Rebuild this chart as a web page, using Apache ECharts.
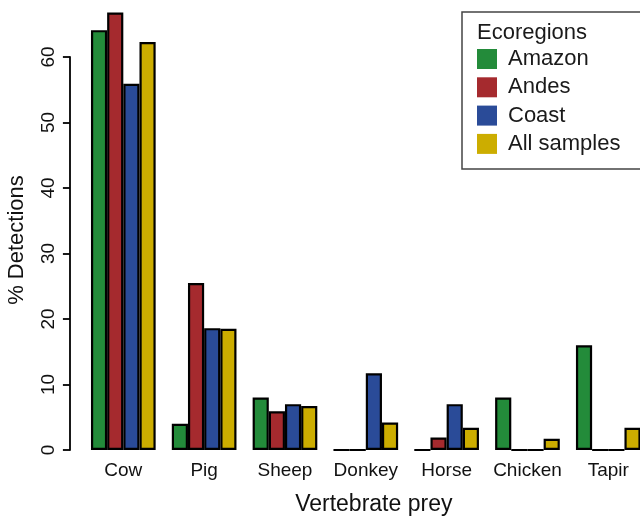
<!DOCTYPE html>
<html>
<head>
<meta charset="utf-8">
<script src="https://cdn.jsdelivr.net/npm/echarts@6/dist/echarts.min.js"></script>
<style>
html,body{margin:0;padding:0;background:#fff;}
#chart{width:640px;height:517px;}
</style>
</head>
<body>
<div id="chart"></div>
<script>
const categories = ['Cow', 'Pig', 'Sheep', 'Donkey', 'Horse', 'Chicken', 'Tapir'];
const amazon = [64.1, 4.0, 8.0, 0, 0, 8.0, 16.0];
const andes = [66.8, 25.5, 5.9, 0, 1.9, 0, 0];
const coast = [55.9, 18.6, 7.0, 11.7, 7.0, 0, 0];
const allSamples = [62.3, 18.5, 6.7, 4.2, 3.4, 1.7, 3.4];
const seriesNames = ['Amazon', 'Andes', 'Coast', 'All samples'];
const colors = ['#238B3A', '#A52A2E', '#2A4B98', '#CCAD00'];
const yTicks = [0, 10, 20, 30, 40, 50, 60];

const FONT = '"Liberation Sans", Helvetica, Arial, sans-serif';
const chart = echarts.init(document.getElementById('chart'));
const seriesData = [amazon, andes, coast, allSamples];

chart.setOption({
  animation: false,
  backgroundColor: '#fff',
  textStyle: { fontFamily: FONT },
  color: colors,
  grid: { left: 82.9, top: 57, width: 565.8, bottom: 67, containLabel: false, outerBoundsMode: 'none' },
  graphic: [
    { type: 'rect', z: 10,
      shape: { x: 462, y: 12, width: 200, height: 157 },
      style: { fill: 'none', stroke: '#444', lineWidth: 1.5 } },
    { type: 'text', x: 477, y: 33, z: 11,
      style: { text: 'Ecoregions', font: '22px ' + FONT, fill: '#1a1a1a', textVerticalAlign: 'middle' } }
  ],
  legend: {
    data: seriesNames,
    orient: 'vertical',
    left: 477,
    top: 48,
    itemWidth: 20,
    itemHeight: 20,
    itemGap: 6.3,
    icon: 'rect',
    padding: 0,
    itemStyle: { borderWidth: 0 },
    textStyle: { fontSize: 22, color: '#1a1a1a', fontFamily: FONT, padding: [0, 0, 0, 6] }
  },
  xAxis: {
    type: 'category',
    data: categories,
    axisLine: { show: false },
    axisTick: { show: false },
    axisLabel: { interval: 0, fontSize: 19, color: '#111', margin: 11, fontFamily: FONT },
    name: 'Vertebrate prey',
    nameLocation: 'middle',
    nameGap: 43,
    nameTextStyle: { fontSize: 23, color: '#111', fontFamily: FONT, padding: [0, 0, 0, 16] }
  },
  yAxis: {
    type: 'value',
    min: 0,
    max: 60,
    interval: 10,
    offset: 13,
    splitLine: { show: false },
    axisLine: { show: true, lineStyle: { color: '#000', width: 1.8 } },
    axisTick: { show: true, length: 7, lineStyle: { color: '#000', width: 1.8 } },
    axisLabel: { rotate: 90, fontSize: 19, color: '#111', margin: 12, fontFamily: FONT,
      formatter: v => yTicks.includes(v) ? String(v) : '' },
    name: '% Detections',
    nameLocation: 'middle',
    nameGap: 42,
    nameTextStyle: { fontSize: 22, color: '#111', fontFamily: FONT, padding: [0, 0, 0, 27] }
  },
  series: seriesNames.map((n, i) => ({
    name: n,
    type: 'bar',
    data: seriesData[i],
    barWidth: 16.17,
    barGap: '0%',
    clip: false,
    itemStyle: { color: colors[i], borderColor: '#000', borderWidth: 2.2 }
  }))
});
</script>
</body>
</html>
